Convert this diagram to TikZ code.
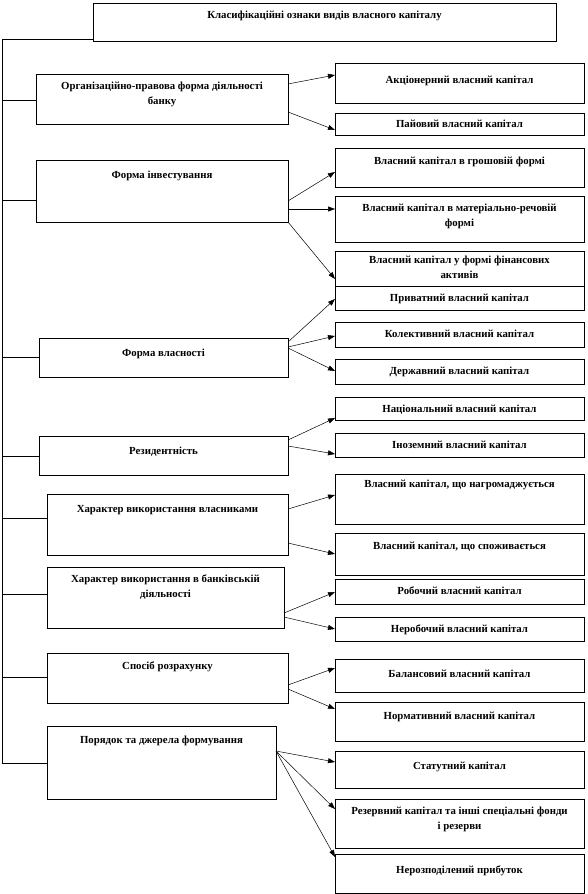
\documentclass[tikz,border=0pt]{standalone}
\usepackage{fontspec}
\setmainfont{Liberation Serif}
\usetikzlibrary{arrows.meta}

% box text: width, height, baseline of first line from top, text
\newcommand{\boxtext}[4]{\parbox[t][#2][t]{#1}{\centering
  \vspace*{\dimexpr#3-8pt\relax}\rule{0pt}{8pt}#4}}

\tikzset{
  box/.style={draw, line width=0.8pt, inner sep=0pt, outer sep=0pt,
    anchor=north west, font=\bfseries\fontsize{10.8}{15}\selectfont},
  link/.style={line width=0.6pt},
  arr/.style={line width=0.5pt, -{Triangle[length=7pt,width=5pt]}}
}

\begin{document}
\begin{tikzpicture}[x=1pt, y=-1pt]
  \useasboundingbox (0,0) rectangle (588,894);

  % -- Title --
  \node[box] (title) at (93,3) {\boxtext{463pt}{38pt}{16pt}{Класифікаційні ознаки видів власного капіталу}};

  % -- Classification features --
  \node[box] (L1) at (36,74)  {\boxtext{252pt}{50pt}{15pt}{Організаційно-правова форма діяльності\\банку}};
  \node[box] (L2) at (36,160) {\boxtext{252pt}{62pt}{18pt}{Форма інвестування}};
  \node[box] (L3) at (39,338) {\boxtext{249pt}{39pt}{18pt}{Форма власності}};
  \node[box] (L4) at (39,436) {\boxtext{249pt}{39pt}{18pt}{Резидентність}};
  \node[box] (L5) at (47,494) {\boxtext{241pt}{61pt}{18pt}{Характер використання власниками}};
  \node[box] (L6) at (47,567) {\boxtext{237pt}{61pt}{15pt}{Характер використання в банківській\\діяльності}};
  \node[box] (L7) at (47,653) {\boxtext{241pt}{50pt}{16pt}{Спосіб розрахунку}};
  \node[box] (L8) at (47,726) {\boxtext{229pt}{73pt}{17pt}{Порядок та джерела формування}};

  % -- Kinds of own capital --
  \node[box] (R1)  at (335,63)  {\boxtext{249pt}{40pt}{20pt}{Акціонерний власний капітал}};
  \node[box] (R2)  at (335,113) {\boxtext{249pt}{22pt}{14pt}{Пайовий власний капітал}};
  \node[box] (R3)  at (335,148) {\boxtext{249pt}{39pt}{16pt}{Власний капітал в грошовій формі}};
  \node[box] (R4)  at (335,196) {\boxtext{249pt}{46pt}{15pt}{Власний капітал в матеріально-речовій\\формі}};
  \node[box] (R5)  at (335,251) {\boxtext{249pt}{35pt}{12pt}{Власний капітал у формі фінансових\\активів}};
  \node[box] (R6)  at (335,286) {\boxtext{249pt}{24pt}{15pt}{Приватний власний капітал}};
  \node[box] (R7)  at (335,322) {\boxtext{249pt}{25pt}{15pt}{Колективний власний капітал}};
  \node[box] (R8)  at (335,359) {\boxtext{249pt}{25pt}{15.5pt}{Державний власний капітал}};
  \node[box] (R9)  at (335,397) {\boxtext{249pt}{23pt}{15pt}{Національний власний капітал}};
  \node[box] (R10) at (335,433) {\boxtext{249pt}{24pt}{15pt}{Іноземний власний капітал}};
  \node[box] (R11) at (335,474) {\boxtext{249pt}{50pt}{13pt}{Власний капітал, що нагромаджується}};
  \node[box] (R12) at (335,533) {\boxtext{249pt}{42pt}{16pt}{Власний капітал, що споживається}};
  \node[box] (R13) at (335,579) {\boxtext{249pt}{25pt}{15.5pt}{Робочий власний капітал}};
  \node[box] (R14) at (335,617) {\boxtext{249pt}{24pt}{15pt}{Неробочий власний капітал}};
  \node[box] (R15) at (335,659) {\boxtext{249pt}{33pt}{18pt}{Балансовий власний капітал}};
  \node[box] (R16) at (335,702) {\boxtext{249pt}{39pt}{17.5pt}{Нормативний власний капітал}};
  \node[box] (R17) at (335,751) {\boxtext{249pt}{37pt}{18pt}{Статутний капітал}};
  \node[box] (R18) at (335,799) {\boxtext{249pt}{49pt}{15pt}{Резервний капітал та інші спеціальні фонди\\і резерви}};
  \node[box] (R19) at (335,854) {\boxtext{249pt}{39pt}{19pt}{Нерозподілений прибуток}};

  % -- Trunk --
  \coordinate (trunk) at (2,39);
  \coordinate (trunkend) at (2,763);
  \draw[link] (trunk) -- (trunkend);
  \draw[link] (title.west |- trunk) -- (trunk);
  \foreach \n/\y in {L1/100, L2/200, L3/357, L4/456, L5/518, L6/594, L7/677, L8/763}
    \draw[link] (\n.west |- 0,\y) -- (trunk |- 0,\y);

  % -- Arrows to kinds --
  \foreach \a/\ya/\b/\yb in {L1/84/R1/75, L1/112/R2/130,
      L2/201/R3/172, L2/209/R4/209, L2/222/R5/279,
      L3/342/R6/299, L3/347/R7/336, L3/348/R8/371,
      L4/440/R9/418, L4/446/R10/454,
      L5/509/R11/495, L5/543/R12/554,
      L6/613/R13/592, L6/617/R14/629,
      L7/685/R15/668, L7/689/R16/709,
      L8/751/R17/762, L8/751/R18/809, L8/751/R19/857}
    \draw[arr] (\a.east |- 0,\ya) -- (\b.west |- 0,\yb);

\end{tikzpicture}
\end{document}
